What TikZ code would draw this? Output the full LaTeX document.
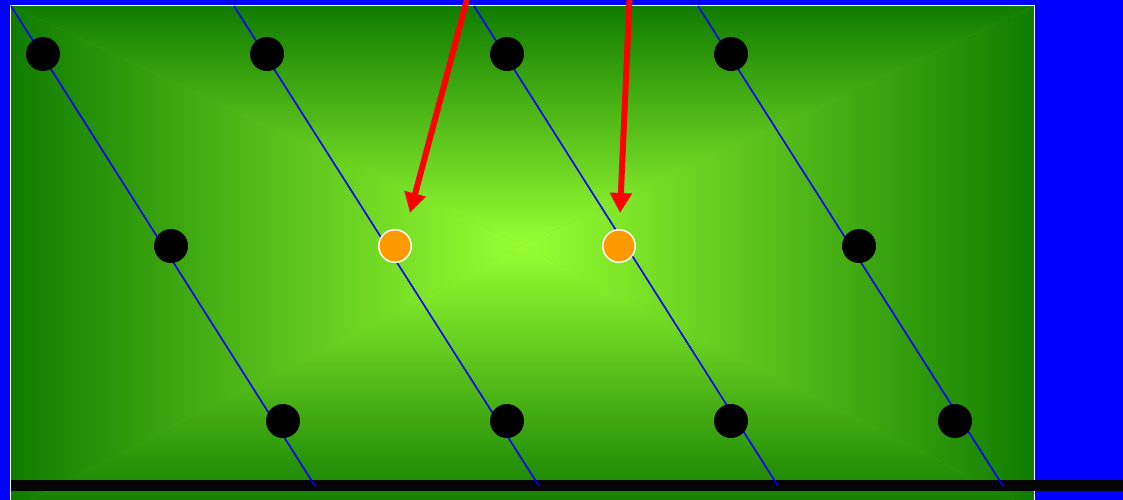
\documentclass[tikz,border=0pt]{standalone}
\usetikzlibrary{arrows.meta}
\definecolor{fielddark}{HTML}{107C00}
\definecolor{fieldlight}{HTML}{99FF33}
\definecolor{dotorange}{HTML}{FF9900}

\begin{document}
\begin{tikzpicture}[x=1pt,y=-1pt,
      dot/.style={circle,fill=black,minimum size=34pt,inner sep=0pt},
      hot/.style={circle,fill=dotorange,draw=white,line width=1.5pt,minimum size=32.5pt,inner sep=0pt},
      lane/.style={blue,line width=1.6pt},
      pointer/.style={red,line width=6pt,-{Triangle[length=20pt,width=21pt]}}]
    \useasboundingbox (0,0) rectangle (1123,500);
    \clip (0,0) rectangle (1123,500);
    \fill[blue] (0,0) rectangle (1123,500);

    % field
    \coordinate (mid) at (522,245);
    \fill[fieldlight!55!fielddark] (11,6) rectangle (1034,510);
    \shade[top color=fielddark,bottom color=fieldlight] (11,6) -- (1034,6) -- (mid) -- cycle;
    \shade[bottom color=fielddark,top color=fieldlight] (11,510) -- (1034,510) -- (mid) -- cycle;
    \shade[left color=fielddark,right color=fieldlight] (11,6) -- (11,510) -- (mid) -- cycle;
    \shade[right color=fielddark,left color=fieldlight] (1034,6) -- (1034,510) -- (mid) -- cycle;
    \draw[white,line width=1.5pt] (10.5,520) -- (10.5,5.5) -- (1034.5,5.5) -- (1034.5,520);

    % bar
    \coordinate (barL) at (11,485.5);
    \coordinate (barR) at (1123,485.5);
    \draw[line width=11pt,black!98] (barL) -- (barR);

    % lanes
    \foreach \xa/\xb [count=\i] in {11/315,234/539,474/778,698/1003}
      {
      \coordinate (top\i) at (\xa,6);
      \coordinate (foot\i) at (\xb,486);
      \draw[lane] (top\i) -- (foot\i);
      }

    % dots
    \foreach \v [count=\i] in {43,267,507,731}
      \node[dot] (a\i) at (\v,54) {};
    \node[dot] (b1) at (171,246) {};
    \node[dot] (b4) at (859,246) {};
    \foreach \v [count=\i] in {283,507,731,955}
      \node[dot] (c\i) at (\v,421) {};
    \node[hot] (b2) at (395,246) {};
    \node[hot] (b3) at (619,246) {};

    % pointers
    \coordinate (from2) at (470,-12);
    \coordinate (tip2) at (410,213);
    \coordinate (from3) at (630,-12);
    \coordinate (tip3) at (620,213);
    \draw[pointer] (from2) -- (tip2);
    \draw[pointer] (from3) -- (tip3);
  \end{tikzpicture}
\end{document}
